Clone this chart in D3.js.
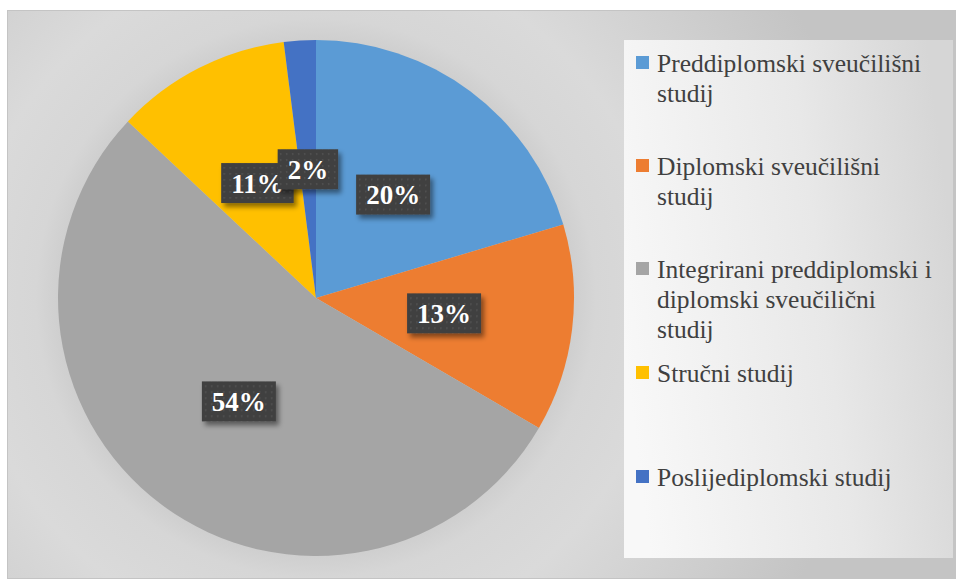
<!DOCTYPE html>
<html>
<head>
<meta charset="utf-8">
<script src="https://cdn.jsdelivr.net/npm/d3@7"></script>
<style>
  body { margin: 0; background: #fff; }
  svg { display: block; }
  .serif { font-family: "Liberation Serif", "Times New Roman", "DejaVu Serif", serif; }
</style>
</head>
<body>
<svg id="chart" width="956" height="579"></svg>
<script>
// slices, clockwise from 12 o'clock
var categories = ["Preddiplomski sveučilišni studij", "Diplomski sveučilišni studij",
  "Integrirani preddiplomski i diplomski sveučilični studij", "Stručni studij", "Poslijediplomski studij"];
var values = [20.4, 13.0, 53.6, 11.0, 2.0];
var colors = ["#5b9bd5", "#ed7d31", "#a5a5a5", "#ffc000", "#4472c4"];
// legend wrapping as in the picture
var legendLines = [
  ["Preddiplomski sveučilišni", "studij"],
  ["Diplomski sveučilišni", "studij"],
  ["Integrirani preddiplomski i", "diplomski sveučilični", "studij"],
  ["Stručni studij"],
  ["Poslijediplomski studij"]
];

var svg = d3.select("#chart");
var defs = svg.append("defs");
var cx = 316, cy = 298, R = 258;

// background glow around the pie
var bg = defs.append("radialGradient").attr("id", "bg")
  .attr("gradientUnits", "userSpaceOnUse")
  .attr("cx", cx).attr("cy", cy).attr("r", 560);
bg.append("stop").attr("offset", 0.44).attr("stop-color", "#cbcbcb");
bg.append("stop").attr("offset", 0.50).attr("stop-color", "#d6d6d6");
bg.append("stop").attr("offset", 0.62).attr("stop-color", "#dadada");
bg.append("stop").attr("offset", 1).attr("stop-color", "#c4c4c4");

var lg = defs.append("linearGradient").attr("id", "lg")
  .attr("x1", 0).attr("y1", 0.6).attr("x2", 1).attr("y2", 0.4);
lg.append("stop").attr("offset", 0).attr("stop-color", "#f8f8f8");
lg.append("stop").attr("offset", 0.6).attr("stop-color", "#e8e8e8");
lg.append("stop").attr("offset", 1).attr("stop-color", "#d6d6d6");

var pat = defs.append("pattern").attr("id", "dots")
  .attr("patternUnits", "userSpaceOnUse").attr("width", 6).attr("height", 6);
pat.append("rect").attr("width", 6).attr("height", 6).attr("fill", "#404040");
pat.append("rect").attr("x", 2).attr("y", 2).attr("width", 1.5).attr("height", 1.5).attr("fill", "#555");

var sh = defs.append("filter").attr("id", "shadow")
  .attr("x", "-30%").attr("y", "-30%").attr("width", "170%").attr("height", "170%");
sh.append("feDropShadow").attr("dx", 3).attr("dy", 4).attr("stdDeviation", 2.5)
  .attr("flood-color", "#000").attr("flood-opacity", 0.45);

// frame
svg.append("rect").attr("x", 7.5).attr("y", 10.5).attr("width", 950).attr("height", 568)
  .attr("fill", "url(#bg)").attr("stroke", "#c4c4c4");

// legend box
svg.append("rect").attr("x", 624).attr("y", 40).attr("width", 329).attr("height", 518)
  .attr("fill", "url(#lg)");

var pie = d3.pie().sort(null).value(function(d) { return d; });
var arc = d3.arc().innerRadius(0).outerRadius(R);
var arcs = pie(values);

var g = svg.append("g").attr("transform", "translate(" + cx + "," + cy + ")");
g.selectAll("path.slice")
  .data(arcs)
  .enter()
  .append("path")
  .attr("class", "slice")
  .attr("d", arc)
  .attr("fill", function(d, i) { return colors[i]; });

// data labels: dark dotted boxes with shadow
var labels = g.selectAll("g.lbl")
  .data(arcs)
  .enter()
  .append("g")
  .attr("class", "lbl")
  .attr("transform", function(d) {
    var c = arc.centroid(d);
    return "translate(" + c[0] + "," + c[1] + ")";
  });

labels.append("rect").attr("filter", "url(#shadow)").attr("fill", "url(#dots)");
labels.append("text")
  .attr("class", "serif")
  .attr("text-anchor", "middle")
  .attr("dy", "0.35em")
  .attr("font-weight", "bold")
  .attr("font-size", 27)
  .attr("fill", "#fff")
  .text(function(d) { return Math.round(d.value) + "%"; });

labels.each(function() {
  var t = d3.select(this).select("text").node().getBBox();
  d3.select(this).select("rect")
    .attr("x", -t.width / 2 - 10).attr("y", -20)
    .attr("width", t.width + 20).attr("height", 40);
});

// legend
var rowY = [72, 175, 278, 382, 486];
var legend = svg.selectAll("g.leg")
  .data(categories)
  .enter()
  .append("g")
  .attr("class", "leg")
  .attr("transform", function(d, i) { return "translate(636," + rowY[i] + ")"; });

legend.append("rect")
  .attr("x", 0).attr("y", -16).attr("width", 13).attr("height", 13)
  .attr("fill", function(d, i) { return colors[i]; });

legend.append("text")
  .attr("class", "serif")
  .attr("x", 21)
  .attr("font-size", 25.5)
  .attr("fill", "#404040")
  .each(function(d, i) {
    var t = d3.select(this);
    legendLines[i].forEach(function(line, k) {
      t.append("tspan").attr("x", 21).attr("y", k * 30).text(line);
    });
  });
</script>
</body>
</html>
